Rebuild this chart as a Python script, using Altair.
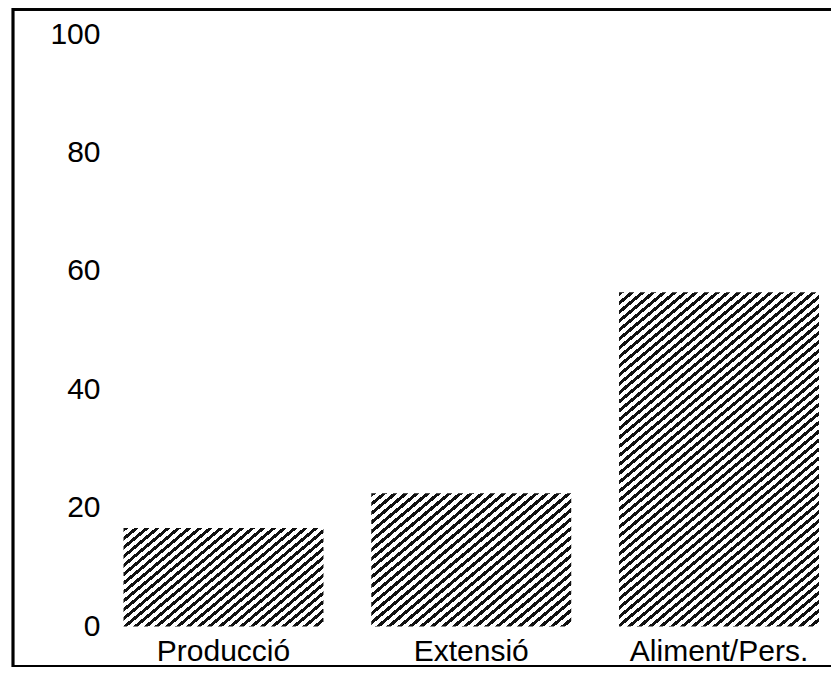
import math
import altair as alt
import pandas as pd

# ---- data ----
categories = ["Producció", "Extensió", "Aliment/Pers."]
values = [16.6, 22.5, 56.4]
y_ticks = [0, 20, 40, 60, 80, 100]

# ---- layout (plot area, scales) ----
W, H = 818, 659
Y_DOMAIN = [-6.85, 104.39]
X_RANGE = [86.6, 829.9]
PAD_INNER = 0.193
FONT = "Liberation Sans"
FS = 30

px_per_unit = H / (Y_DOMAIN[1] - Y_DOMAIN[0])
step = (X_RANGE[1] - X_RANGE[0]) / len(categories)
bar_w = step * (1 - PAD_INNER)


def hatch(w, h, theta_deg=40.0, period=6.9, dark=0.45):
    """Diagonal '/' hatching as a hard-stop linear gradient."""
    s = math.sin(math.radians(theta_deg))
    c = math.cos(math.radians(theta_deg))
    L = w * s + h * c
    n = max(1, round(L / period))
    k = L / (w * w * s * s + h * h * c * c)
    stops = []
    for i in range(n):
        a = i / n
        b = (i + dark) / n
        e = (i + 1) / n
        stops += [
            alt.GradientStop(offset=a, color="#111111"),
            alt.GradientStop(offset=b, color="#111111"),
            alt.GradientStop(offset=b, color="#ffffff"),
            alt.GradientStop(offset=e, color="#ffffff"),
        ]
    return alt.LinearGradient(
        gradient="linear", stops=stops, x1=0, y1=0, x2=k * w * s, y2=k * h * c
    )


df = pd.DataFrame({"cat": categories, "value": values})

x_enc = alt.X(
    "cat:N",
    sort=categories,
    scale=alt.Scale(range=X_RANGE, paddingInner=PAD_INNER, paddingOuter=PAD_INNER / 2),
    axis=alt.Axis(
        title="",
        labelAngle=0,
        labelFont=FONT,
        labelFontSize=FS,
        labelColor="#000000",
        labelBaseline="alphabetic",
        labelPadding=0,
        ticks=False,
        tickSize=0,
        domain=False,
        grid=False,
        offset=-7,
    ),
)
y_enc = alt.Y(
    "value:Q",
    scale=alt.Scale(domain=Y_DOMAIN, nice=False, zero=False),
    axis=alt.Axis(
        title="",
        values=y_ticks,
        labelFont=FONT,
        labelFontSize=FS,
        labelColor="#000000",
        labelPadding=0,
        ticks=False,
        tickSize=0,
        domain=False,
        grid=False,
        offset=-87,
    ),
)

layers = []
for cat, val in zip(categories, values):
    layers.append(
        alt.Chart(df)
        .transform_filter(alt.datum.cat == cat)
        .mark_bar(fill=hatch(bar_w, val * px_per_unit), strokeWidth=0)
        .encode(x=x_enc, y=y_enc, y2=alt.datum(0))
    )

frame_top = alt.Chart(df).mark_rule(color="#000000", strokeWidth=2.5).encode(
    x=alt.value(0), x2=alt.value(W), y=alt.value(1.5)
)
frame_left = alt.Chart(df).mark_rule(color="#000000", strokeWidth=2.5).encode(
    x=alt.value(0), y=alt.value(0), y2=alt.value(H)
)
frame_bottom = alt.Chart(df).mark_rule(color="#000000", strokeWidth=2).encode(
    x=alt.value(0), x2=alt.value(W), y=alt.value(H - 1)
)

chart = (
    alt.layer(*layers, frame_top, frame_left, frame_bottom)
    .properties(
        width=W,
        height=H,
        autosize=alt.AutoSizeParams(type="none"),
        padding={"left": 5, "top": 0, "right": 0, "bottom": 1},
        background="#ffffff",
    )
    .configure_view(strokeWidth=0)
)

chart.save("out.html", embed_options={"renderer": "svg", "actions": False})
